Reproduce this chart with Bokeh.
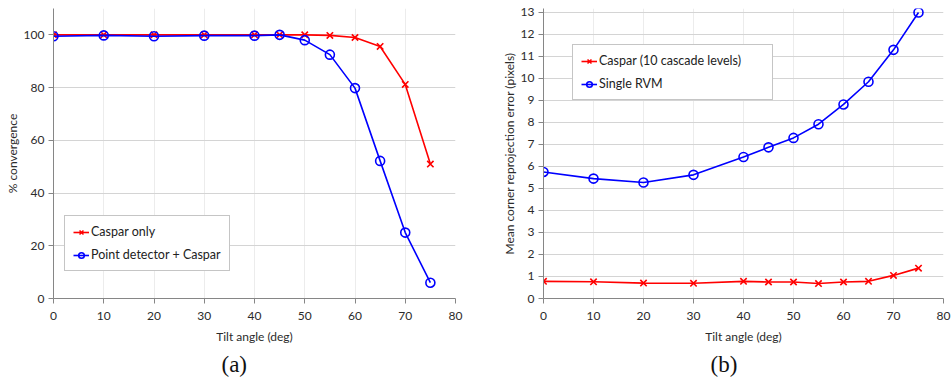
from bokeh.plotting import figure
from bokeh.layouts import row
from bokeh.models import Legend, LegendItem, Title, FixedTicker, Range1d
from bokeh.embed import file_html
from bokeh.resources import INLINE

# ---- data ----
tilt = [0, 10, 20, 30, 40, 45, 50, 55, 60, 65, 70, 75]
conv_caspar = [100, 100, 100, 100, 100, 100, 100, 99.8, 99.0, 95.6, 81.2, 51.0]
conv_point = [99.5, 99.8, 99.5, 99.7, 99.7, 100, 98.0, 92.5, 79.8, 52.2, 25.0, 6.0]
err_caspar = [0.78, 0.76, 0.70, 0.69, 0.78, 0.75, 0.75, 0.68, 0.75, 0.78, 1.05, 1.38]
err_rvm = [5.75, 5.45, 5.27, 5.62, 6.43, 6.87, 7.30, 7.92, 8.82, 9.85, 11.30, 13.0]
x_ticks = [0, 10, 20, 30, 40, 50, 60, 70, 80]
y_ticks_a = [0, 20, 40, 60, 80, 100]
y_ticks_b = list(range(0, 14))

FONT = "Lato"
RED = "#ff0000"
BLUE = "#0000ff"


def style(p, yticks):
    p.xaxis.ticker = FixedTicker(ticks=x_ticks)
    p.yaxis.ticker = FixedTicker(ticks=yticks)
    for ax in (p.xaxis[0], p.yaxis[0]):
        ax.axis_line_color = "#868686"
        ax.major_tick_line_color = "#868686"
        ax.major_tick_out = 5
        ax.major_tick_in = 0
        ax.minor_tick_line_color = None
        ax.major_label_text_font = FONT
        ax.major_label_text_font_size = "12px"
        ax.major_label_text_color = "#2b2b2b"
        ax.axis_label_text_font = FONT
        ax.axis_label_text_font_size = "12px"
        ax.axis_label_text_font_style = "normal"
        ax.axis_label_text_color = "#2b2b2b"
    p.xaxis.major_label_standoff = 8
    p.xaxis.axis_label_standoff = 6
    p.yaxis.major_label_standoff = 4
    p.yaxis.axis_label_standoff = 1
    p.xgrid.grid_line_color = "#ececec"
    p.ygrid.grid_line_color = "#d4d4d4"
    p.outline_line_color = None
    p.background_fill_color = "white"
    p.border_fill_color = "white"


def series(p, x, y, color, marker):
    l = p.line(x, y, line_color=color, line_width=1.6)
    if marker == "x":
        s = p.scatter(x, y, marker="x", size=9, line_color=color, line_width=1.6)
    else:
        s = p.scatter(x, y, marker="circle", size=9, line_color=color,
                      fill_alpha=0, line_width=1.6)
    return [l, s]


def legend(p, items, loc, label_width):
    lg = Legend(items=items, location=loc, label_text_font=FONT,
                label_text_font_size="12.5px", label_text_color="#222222",
                border_line_color="#8c8c8c", border_line_width=1.2,
                background_fill_color="white", background_fill_alpha=1,
                glyph_width=16, glyph_height=14, label_standoff=2,
                spacing=8, padding=8, margin=0, label_width=label_width,
                label_height=14)
    p.add_layout(lg, "center")


def caption(p, text, offset):
    t = Title(text=text, align="left", offset=offset,
              text_font="Liberation Serif", text_font_size="23px",
              text_font_style="normal", text_color="#111111",
              standoff=7)
    p.add_layout(t, "below")


# ---- (a) ----
pa = figure(width=475, height=381, frame_width=402, frame_height=290,
            min_border_left=53, min_border_right=20, min_border_top=8,
            min_border_bottom=5,
            x_range=Range1d(0, 80), y_range=Range1d(0, 110),
            toolbar_location=None, output_backend="svg")
style(pa, y_ticks_a)
pa.xaxis.axis_label = "Tilt angle (deg)"
pa.yaxis.axis_label = "% convergence"
ra = series(pa, tilt, conv_caspar, RED, "x")
rb = series(pa, tilt, conv_point, BLUE, "o")
legend(pa, [LegendItem(label="Caspar only", renderers=ra),
            LegendItem(label="Point detector + Caspar", renderers=rb)],
       (11, 27), 128)
caption(pa, "(a)", 168)

# ---- (b) ----
pb = figure(width=476, height=381, frame_width=400, frame_height=290,
            min_border_left=68, min_border_right=8, min_border_top=8,
            min_border_bottom=5,
            x_range=Range1d(0, 80), y_range=Range1d(0, 13.18),
            toolbar_location=None, output_backend="svg")
style(pb, y_ticks_b)
pb.xaxis.axis_label = "Tilt angle (deg)"
pb.yaxis.axis_label = "Mean corner reprojection error (pixels)"
rc = series(pb, tilt, err_caspar, RED, "x")
rd = series(pb, tilt, err_rvm, BLUE, "o")
legend(pb, [LegendItem(label="Caspar (10 cascade levels)", renderers=rc),
            LegendItem(label="Single RVM", renderers=rd)],
       (29, 198), 165)
caption(pb, "(b)", 167)

layout = row(pa, pb, spacing=0)
open("out.html", "w").write(file_html(layout, INLINE))
